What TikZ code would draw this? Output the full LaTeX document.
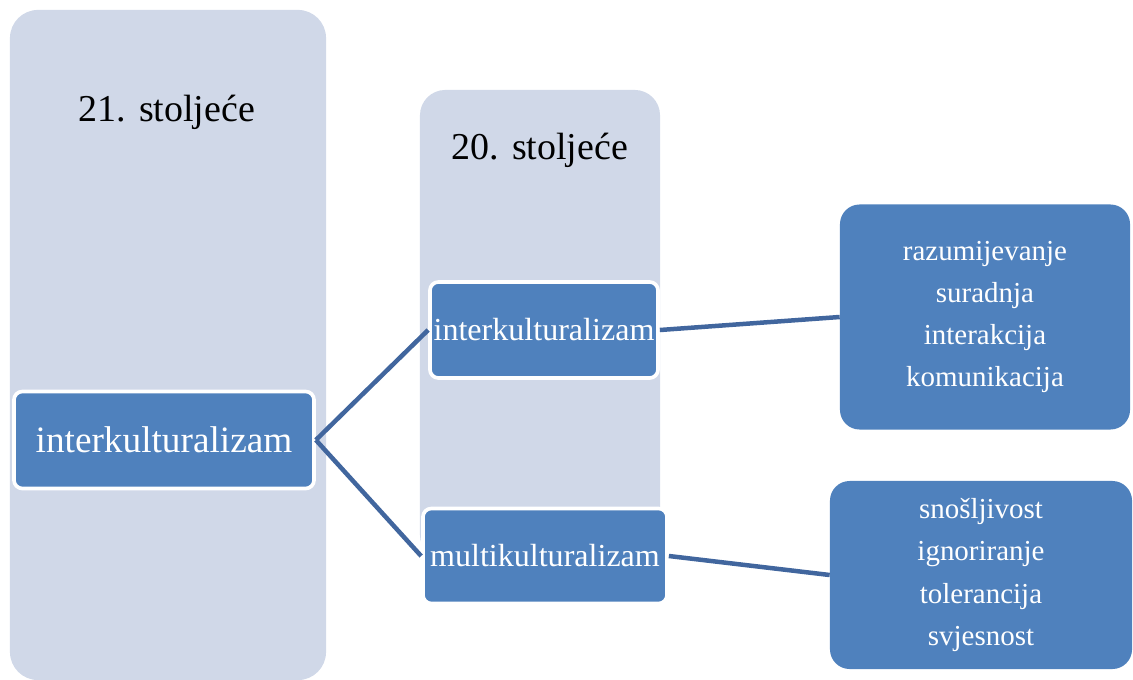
\documentclass[tikz,border=0pt]{standalone}
\usepackage{fontspec}
\setmainfont{Liberation Serif}
\usepackage{tikz}
\usetikzlibrary{positioning,shapes}

\definecolor{panelbg}{RGB}{208,216,232}
\definecolor{boxblue}{RGB}{79,129,189}
\definecolor{linkblue}{RGB}{65,102,158}

\tikzset{
    panel/.style={
        rectangle,
        fill=panelbg,
        rounded corners=20pt,
        inner sep=0pt
    },
    era/.style={
        font=\fontsize{27}{32}\selectfont,
        text=black
    },
    cellbox/.style={
        rectangle,
        fill=boxblue,
        draw=white, line width=2.6pt,
        rounded corners=6pt,
        text=white,
        text centered,
        inner sep=0pt
    },
    listbox/.style={
        rectangle,
        fill=boxblue,
        rounded corners=14pt,
        text=white,
        align=center,
        font=\fontsize{20.6}{29.9}\selectfont,
        inner sep=0pt
    },
    link/.style={draw=linkblue, line width=3.2pt}
}

\begin{document}
\begin{tikzpicture}[x=0.025cm, y=-0.025cm]
    \useasboundingbox (0,0) rectangle (1133,679);
    % column panels
    \node[panel, minimum width=7.9cm, minimum height=16.75cm] (p21) at (168,345) {};
    \node[panel, rounded corners=18pt, minimum width=6cm, minimum height=11.75cm] (p20) at (540,325) {};
    \node[era] (t21) at (167,112) {21. stoljeće};
    \node[era] (t20) at (540,150) {20. stoljeće};
    % boxes
    \node[cellbox, minimum width=7.5cm, minimum height=2.425cm,
          font=\fontsize{26.5}{30}\selectfont] (inter21) at (164,440) {interkulturalizam};
    \node[cellbox, minimum width=5.7cm, minimum height=2.4cm,
          font=\fontsize{22.8}{27}\selectfont] (inter20) at (544,330) {interkulturalizam};
    \node[cellbox, minimum width=6.1cm, minimum height=2.375cm,
          font=\fontsize{22.8}{27}\selectfont] (multi20) at (545,556) {multikulturalizam};
    \node[listbox, minimum width=7.25cm, minimum height=5.625cm] (list1) at (985,317)
        {razumijevanje\\suradnja\\interakcija\\komunikacija};
    \node[listbox, minimum width=7.55cm, minimum height=4.7cm] (list2) at (981,575)
        {snošljivost\\ignoriranje\\tolerancija\\svjesnost};
    % connectors
    \draw[link] (inter21.east) -- (inter20.west);
    \draw[link] (inter21.east) -- (multi20.west);
    \draw[link] (inter20.east) -- (list1.west);
    \draw[link] (multi20.east) -- (list2.west);
\end{tikzpicture}
\end{document}
